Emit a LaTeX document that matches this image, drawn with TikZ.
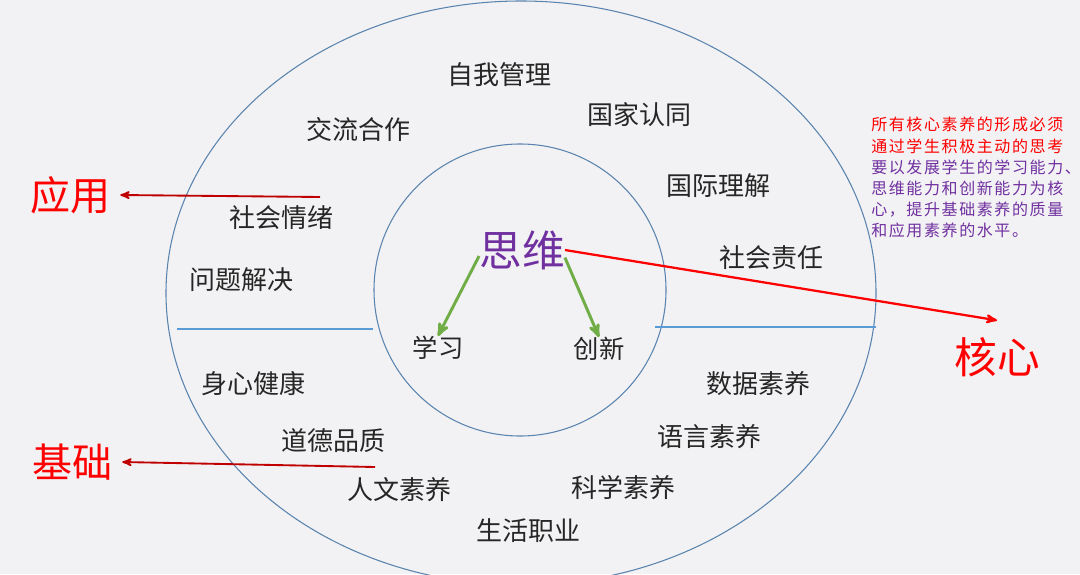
\documentclass[tikz,border=0pt]{standalone}
\usepackage{fontspec}
\setmainfont{Noto Sans CJK SC}
\newfontfamily\notefont[LetterSpace=10]{Noto Sans CJK SC}
\usepackage{tikz}
\usetikzlibrary{arrows}
\definecolor{ringblue}{HTML}{5A84AE}
\definecolor{lineblue}{HTML}{5B9BD5}
\definecolor{leafgreen}{HTML}{70AD47}
\definecolor{thinkpurple}{HTML}{7030A0}
\definecolor{bggray}{HTML}{F2F2F4}
\definecolor{darkred}{HTML}{C00000}

\begin{document}
\begin{tikzpicture}[x=0.75pt,y=-0.75pt,>=stealth',
    item/.style={inner sep=0pt,text=black!85,font=\fontsize{19.5pt}{20pt}\selectfont},
    sub/.style={inner sep=0pt,text=black!85,font=\fontsize{19pt}{20pt}\selectfont},
    big/.style={inner sep=7.5pt,text=red,font=\fontsize{30pt}{32pt}\selectfont},
    note/.style={inner sep=0pt,text=thinkpurple,align=left,
                 font=\notefont\fontsize{12pt}{15.9pt}\selectfont},
    ring/.style={draw=ringblue,line width=0.8pt},
    divider/.style={draw=lineblue,line width=1.5pt},
    redarrow/.style={->,draw=red,line width=1.7pt},
    greenarrow/.style={->,draw=leafgreen,line width=2.2pt}]

  \useasboundingbox (0,0) rectangle (1080,574);
  \fill[bggray] (0,0) rectangle (1080,574);

  % rings and dividers
  \draw[ring] (521,293) ellipse [x radius=266.25pt, y radius=219pt];
  \draw[ring] (520,290) circle [radius=109.5pt];
  \draw[divider] (177,329) -- (373,329);
  \draw[divider] (655,327) -- (876,327);

  % centre
  \node[inner sep=0pt,text=thinkpurple,font=\fontsize{32pt}{33pt}\selectfont]
        (siwei) at (522,250) {思维};
  \node[sub] (xuexi)     at (438,348) {学习};
  \node[sub] (chuangxin) at (599,349) {创新};

  % outer ring
  \node[item] (ziwo)     at (499,75)  {自我管理};
  \node[item] (guojia)   at (639,115) {国家认同};
  \node[item] (jiaoliu)  at (358,130) {交流合作};
  \node[item] (guoji)    at (718,186) {国际理解};
  \node[item] (qingxu)   at (281,218) {社会情绪};
  \node[item] (wenti)    at (241,280) {问题解决};
  \node[item] (zeren)    at (771,258) {社会责任};
  \node[item] (shenxin)  at (253,384) {身心健康};
  \node[item] (daode)    at (333,441) {道德品质};
  \node[item] (shuju)    at (758,384) {数据素养};
  \node[item] (yuyan)    at (709,437) {语言素养};
  \node[item] (renwen)   at (399,490) {人文素养};
  \node[item] (kexue)    at (623,488) {科学素养};
  \node[item] (shenghuo) at (528,531) {生活职业};

  % side labels
  \node[big] (yingyong) at (70,195)  {应用};
  \node[big] (jichu)    at (72,462)  {基础};
  \node[big,inner ysep=12.5pt,font=\fontsize{32pt}{34pt}\selectfont]
        (hexin) at (997,357) {核心};

  \node[note,anchor=north west] (remark) at (871,117)
       {\textcolor{red}{所有核心素养的形成必须}\\
        \textcolor{red}{通过学生积极主动的思考}\\
        要以发展学生的学习能力、\\
        思维能力和创新能力为核\\
        心，提升基础素养的质量\\
        和应用素养的水平。};

  \coordinate (yyfrom) at (320,197);
  \coordinate (jcfrom) at (375,467);

  \path (siwei.188) edge[greenarrow] (xuexi.north)
        (siwei.-10) edge[greenarrow] (chuangxin.north)
        (siwei.east) edge[redarrow] (hexin.north)
        (yyfrom) edge[redarrow,draw=darkred,line width=1.4pt] (yingyong.east)
        (jcfrom) edge[redarrow,draw=darkred,line width=1.4pt] (jichu.east);
\end{tikzpicture}
\end{document}
